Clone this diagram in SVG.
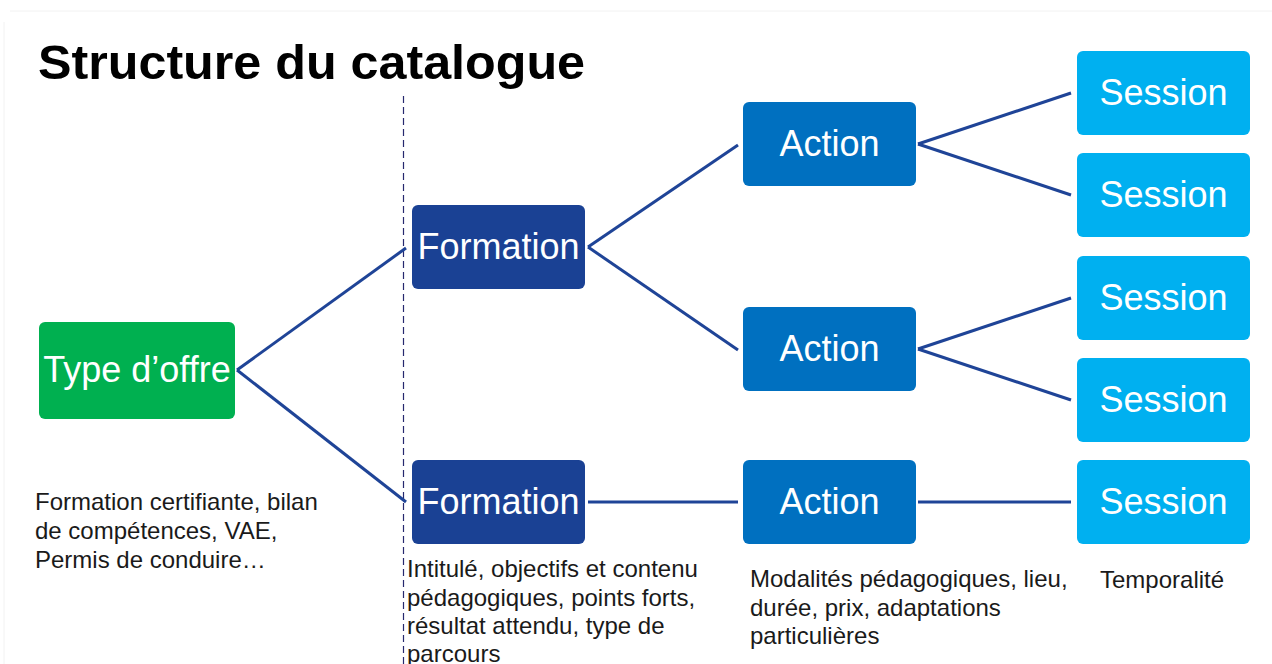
<svg xmlns="http://www.w3.org/2000/svg" width="1272" height="664" viewBox="0 0 1272 664">
  <style>
    .node-label { font-family: "Liberation Sans", Arial, sans-serif; font-size: 36px; fill: #ffffff; text-anchor: middle; }
    .desc { font-family: "Liberation Sans", Arial, sans-serif; font-size: 24px; fill: #1a1a1a; }
    .title { font-family: "Liberation Sans", Arial, sans-serif; font-size: 48px; font-weight: bold; fill: #000000; }
    .type { fill: #00B050; }
    .formation { fill: #1A4194; }
    .action { fill: #0070C0; }
    .session { fill: #00B0F0; }
    .link { stroke: #1F4497; stroke-width: 3; fill: none; }
  </style>

  <rect x="0" y="0" width="1272" height="664" fill="#ffffff"/>
  <!-- faint slide frame -->
  <line x1="10" y1="11" x2="1272" y2="11" stroke="#f2f2f2" stroke-width="1"/>
  <line x1="4" y1="22" x2="4" y2="664" stroke="#f2f2f2" stroke-width="1"/>

  <text class="title" x="38" y="79" textLength="547" lengthAdjust="spacingAndGlyphs">Structure du catalogue</text>

  <!-- separator -->
  <line x1="403.5" y1="96" x2="403.5" y2="664" stroke="#26286E" stroke-width="1.2" stroke-dasharray="7,4"/>

  <!-- connectors -->
  <g id="connectors">
    <line class="link" x1="237" y1="370" x2="406" y2="248"/>
    <line class="link" x1="237" y1="370" x2="406" y2="502"/>
    <line class="link" x1="588" y1="247" x2="738" y2="145"/>
    <line class="link" x1="588" y1="247" x2="738" y2="350"/>
    <line class="link" x1="588" y1="502" x2="738" y2="502"/>
    <line class="link" x1="918" y1="144" x2="1071" y2="93"/>
    <line class="link" x1="918" y1="144" x2="1071" y2="195"/>
    <line class="link" x1="918" y1="349" x2="1071" y2="298"/>
    <line class="link" x1="918" y1="349" x2="1071" y2="400"/>
    <line class="link" x1="918" y1="502" x2="1071" y2="502"/>
  </g>

  <g id="type-offre">
    <rect class="type" x="39" y="322" width="196" height="97" rx="6"/>
    <text class="node-label" x="137" y="382">Type d’offre</text>
  </g>

  <g id="formation-1">
    <rect class="formation" x="412" y="205" width="173" height="84" rx="6"/>
    <text class="node-label" x="498.5" y="259">Formation</text>
  </g>
  <g id="formation-2">
    <rect class="formation" x="412" y="460" width="173" height="84" rx="6"/>
    <text class="node-label" x="498.5" y="514">Formation</text>
  </g>

  <g id="action-1">
    <rect class="action" x="743" y="102" width="173" height="84" rx="6"/>
    <text class="node-label" x="829.5" y="156">Action</text>
  </g>
  <g id="action-2">
    <rect class="action" x="743" y="307" width="173" height="84" rx="6"/>
    <text class="node-label" x="829.5" y="361">Action</text>
  </g>
  <g id="action-3">
    <rect class="action" x="743" y="460" width="173" height="84" rx="6"/>
    <text class="node-label" x="829.5" y="514">Action</text>
  </g>

  <g id="session-1">
    <rect class="session" x="1077" y="51" width="173" height="84" rx="6"/>
    <text class="node-label" x="1163.5" y="105">Session</text>
  </g>
  <g id="session-2">
    <rect class="session" x="1077" y="153" width="173" height="84" rx="6"/>
    <text class="node-label" x="1163.5" y="207">Session</text>
  </g>
  <g id="session-3">
    <rect class="session" x="1077" y="256" width="173" height="84" rx="6"/>
    <text class="node-label" x="1163.5" y="310">Session</text>
  </g>
  <g id="session-4">
    <rect class="session" x="1077" y="358" width="173" height="84" rx="6"/>
    <text class="node-label" x="1163.5" y="412">Session</text>
  </g>
  <g id="session-5">
    <rect class="session" x="1077" y="460" width="173" height="84" rx="6"/>
    <text class="node-label" x="1163.5" y="514">Session</text>
  </g>

  <!-- descriptions -->
  <g id="desc-type">
    <text class="desc" x="35" y="510">Formation certifiante, bilan</text>
    <text class="desc" x="35" y="539">de compétences, VAE,</text>
    <text class="desc" x="35" y="568">Permis de conduire…</text>
  </g>
  <g id="desc-formation">
    <text class="desc" x="407" y="577">Intitulé, objectifs et contenu</text>
    <text class="desc" x="407" y="606">pédagogiques, points forts,</text>
    <text class="desc" x="407" y="634">résultat attendu, type de</text>
    <text class="desc" x="407" y="662">parcours</text>
  </g>
  <g id="desc-action">
    <text class="desc" x="750" y="587">Modalités pédagogiques, lieu,</text>
    <text class="desc" x="750" y="616">durée, prix, adaptations</text>
    <text class="desc" x="750" y="644">particulières</text>
  </g>
  <g id="desc-session">
    <text class="desc" x="1100" y="588">Temporalité</text>
  </g>
</svg>
